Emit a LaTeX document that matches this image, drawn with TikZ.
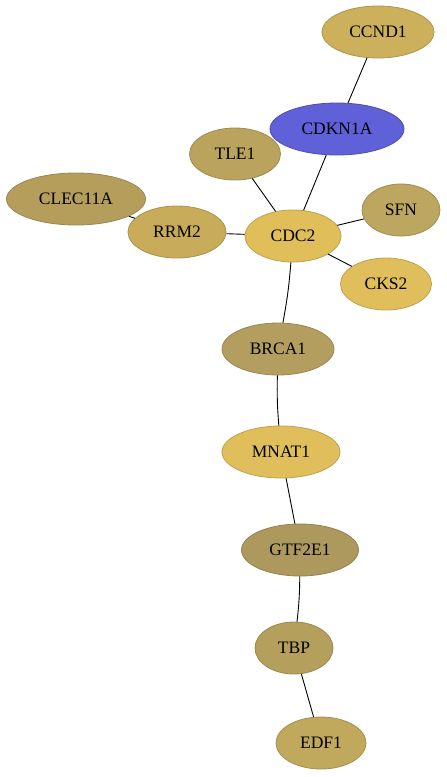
\documentclass[tikz,border=0pt]{standalone}
\usepackage{fontspec}
\setmainfont{Liberation Serif}
\usetikzlibrary{shapes.geometric}

\definecolor{cccnd}{RGB}{204,176,92}
\definecolor{ccdkn}{RGB}{96,96,216}
\definecolor{ctle}{RGB}{185,163,93}
\definecolor{cclec}{RGB}{181,158,92}
\definecolor{crrm}{RGB}{201,172,90}
\definecolor{ccdc}{RGB}{224,190,90}
\definecolor{csfn}{RGB}{189,166,95}
\definecolor{ccks}{RGB}{224,190,92}
\definecolor{cbrca}{RGB}{180,158,95}
\definecolor{cmnat}{RGB}{224,190,92}
\definecolor{cgtf}{RGB}{173,153,94}
\definecolor{ctbp}{RGB}{180,160,92}
\definecolor{cedf}{RGB}{192,168,92}

\tikzset{
  gene/.style={ellipse, inner sep=0pt, minimum height=52pt,
    line width=0.8pt, font=\fontsize{17.5}{20}\selectfont},
  link/.style={line width=0.9pt, black}
}

\begin{document}
\begin{tikzpicture}[x=1pt, y=-1pt]

\useasboundingbox (0,0) rectangle (447,777);

% genes
\node[gene, minimum width=112pt, fill=cccnd, draw=cccnd!85!black] (CCND1) at (378,32) {CCND1};
\node[gene, minimum width=134pt, fill=ccdkn, draw=ccdkn!80!black] (CDKN1A) at (337,129) {CDKN1A};
\node[gene, minimum width=91pt, fill=ctle, draw=ctle!85!black] (TLE1) at (235,154) {TLE1};
\node[gene, minimum width=139pt, fill=cclec, draw=cclec!85!black] (CLEC11A) at (76,199) {CLEC11A};
\node[gene, minimum width=98pt, fill=crrm, draw=crrm!85!black] (RRM2) at (177,232) {RRM2};
\node[gene, minimum width=96pt, fill=ccdc, draw=ccdc!85!black] (CDC2) at (293,236) {CDC2};
\node[gene, minimum width=78pt, fill=csfn, draw=csfn!85!black] (SFN) at (401,210) {SFN};
\node[gene, minimum width=91pt, fill=ccks, draw=ccks!85!black] (CKS2) at (386,284) {CKS2};
\node[gene, minimum width=112pt, fill=cbrca, draw=cbrca!85!black] (BRCA1) at (278,349) {BRCA1};
\node[gene, minimum width=118pt, fill=cmnat, draw=cmnat!85!black] (MNAT1) at (281,452) {MNAT1};
\node[gene, minimum width=117pt, fill=cgtf, draw=cgtf!85!black] (GTF2E1) at (300,550) {GTF2E1};
\node[gene, minimum width=78pt, fill=ctbp, draw=ctbp!85!black] (TBP) at (294,648) {TBP};
\node[gene, minimum width=90pt, fill=cedf, draw=cedf!85!black] (EDF1) at (321,743) {EDF1};

% interactions
\draw[link] (CCND1) -- (CDKN1A);
\draw[link] (CDKN1A) -- (CDC2);
\draw[link] (TLE1) -- (CDC2);
\draw[link] (CLEC11A) -- (RRM2);
\draw[link] (RRM2) -- (CDC2);
\draw[link] (CDC2) -- (SFN);
\draw[link] (CDC2) -- (CKS2);
\draw[link] (CDC2) to[bend left=3] (BRCA1);
\draw[link] (BRCA1) to[bend right=3] (MNAT1);
\draw[link] (MNAT1) -- (GTF2E1);
\draw[link] (GTF2E1) to[bend left=3] (TBP);
\draw[link] (TBP) -- (EDF1);

\end{tikzpicture}
\end{document}
